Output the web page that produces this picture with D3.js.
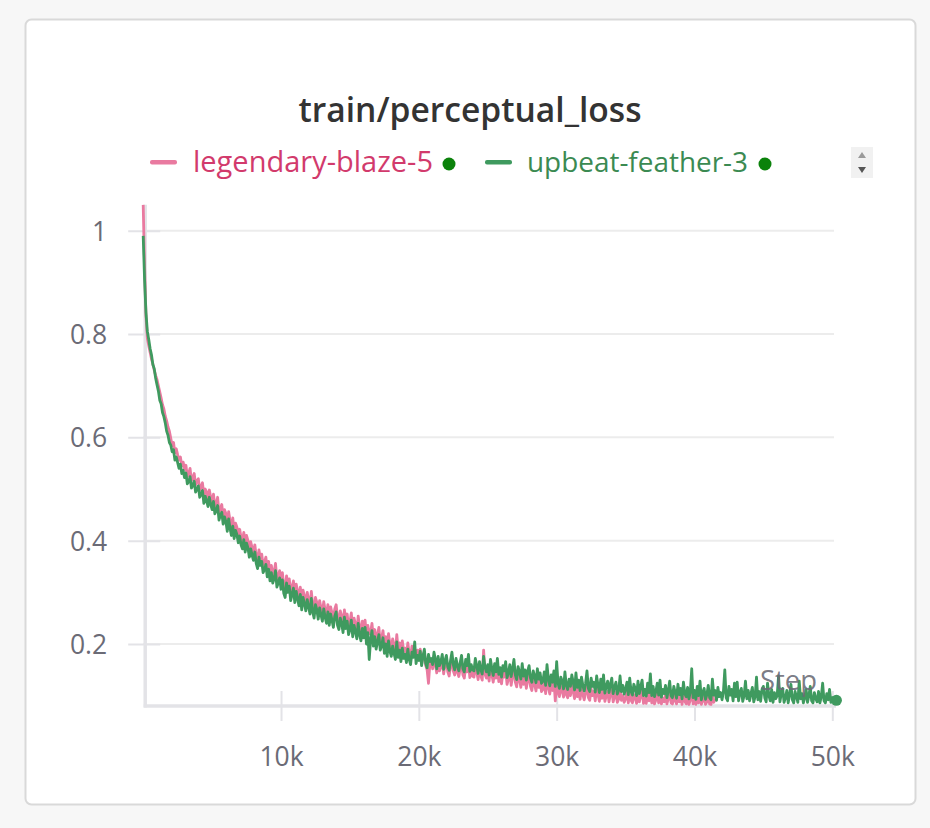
<!DOCTYPE html>
<html>
<head>
<meta charset="utf-8">
<script src="https://cdn.jsdelivr.net/npm/d3@7/dist/d3.min.js"></script>
<style>
  html, body { margin: 0; padding: 0; background: #f7f7f7; }
  svg { display: block; }
</style>
</head>
<body>
<svg id="chart" width="930" height="828"></svg>
<script>
// ---------------- DATA ----------------
const title = "train/perceptual_loss";
const seriesNames = ["legendary-blaze-5", "upbeat-feather-3"];
const stepInterval = 100;
const xTicks = [10000, 20000, 30000, 40000, 50000];
const xTickLabels = ["10k", "20k", "30k", "40k", "50k"];
const yTicks = [0.2, 0.4, 0.6, 0.8, 1];
const yTickLabels = ["0.2", "0.4", "0.6", "0.8", "1"];

// legendary-blaze-5 (pink), steps 0 .. 41500 every 100 (one row = 1k steps)
const pinkValues = [
  1.050, 0.930, 0.835, 0.792, 0.778, 0.765, 0.752, 0.742, 0.730, 0.720,
  0.712, 0.700, 0.688, 0.676, 0.663, 0.655, 0.641, 0.632, 0.620, 0.612,
  0.598, 0.584, 0.590, 0.570, 0.578, 0.566, 0.556, 0.562, 0.545, 0.552,
  0.538, 0.546, 0.524, 0.530, 0.540, 0.516, 0.522, 0.530, 0.508, 0.516,
  0.520, 0.498, 0.505, 0.512, 0.488, 0.500, 0.494, 0.480, 0.498, 0.484,
  0.474, 0.490, 0.466, 0.472, 0.484, 0.454, 0.462, 0.470, 0.446, 0.460,
  0.452, 0.432, 0.456, 0.438, 0.424, 0.444, 0.418, 0.434, 0.426, 0.410,
  0.422, 0.406, 0.398, 0.416, 0.392, 0.410, 0.400, 0.382, 0.398, 0.386,
  0.376, 0.392, 0.370, 0.360, 0.382, 0.366, 0.374, 0.352, 0.358, 0.368,
  0.344, 0.360, 0.336, 0.352, 0.332, 0.340, 0.356, 0.324, 0.332, 0.342,
  0.320, 0.338, 0.312, 0.304, 0.332, 0.314, 0.326, 0.298, 0.310, 0.322,
  0.294, 0.316, 0.302, 0.288, 0.310, 0.280, 0.304, 0.292, 0.278, 0.300,
  0.286, 0.272, 0.302, 0.276, 0.264, 0.290, 0.280, 0.262, 0.284, 0.270,
  0.258, 0.282, 0.266, 0.254, 0.276, 0.250, 0.272, 0.260, 0.246, 0.268,
  0.276, 0.250, 0.242, 0.264, 0.254, 0.236, 0.266, 0.244, 0.258, 0.232,
  0.242, 0.260, 0.228, 0.250, 0.238, 0.224, 0.254, 0.232, 0.220, 0.244,
  0.226, 0.246, 0.214, 0.236, 0.220, 0.222, 0.240, 0.210, 0.228, 0.204,
  0.218, 0.232, 0.202, 0.210, 0.226, 0.196, 0.214, 0.190, 0.220, 0.200,
  0.190, 0.210, 0.196, 0.184, 0.218, 0.188, 0.202, 0.180, 0.206, 0.186,
  0.192, 0.176, 0.202, 0.182, 0.172, 0.196, 0.186, 0.190, 0.174, 0.188,
  0.176, 0.190, 0.160, 0.178, 0.184, 0.158, 0.150, 0.124, 0.162, 0.170,
  0.152, 0.172, 0.160, 0.144, 0.168, 0.148, 0.156, 0.170, 0.142, 0.160,
  0.166, 0.146, 0.138, 0.158, 0.170, 0.148, 0.140, 0.160, 0.146, 0.137,
  0.152, 0.164, 0.140, 0.134, 0.158, 0.146, 0.166, 0.135, 0.148, 0.138,
  0.136, 0.160, 0.146, 0.131, 0.154, 0.138, 0.130, 0.188, 0.142, 0.134,
  0.148, 0.128, 0.156, 0.140, 0.126, 0.150, 0.134, 0.158, 0.127, 0.142,
  0.123, 0.146, 0.136, 0.150, 0.122, 0.132, 0.146, 0.120, 0.138, 0.152,
  0.126, 0.117, 0.142, 0.132, 0.116, 0.146, 0.122, 0.136, 0.114, 0.132,
  0.140, 0.118, 0.110, 0.132, 0.122, 0.109, 0.136, 0.116, 0.128, 0.108,
  0.112, 0.130, 0.104, 0.138, 0.116, 0.103, 0.124, 0.110, 0.130, 0.090,
  0.122, 0.106, 0.098, 0.118, 0.110, 0.097, 0.126, 0.102, 0.096, 0.114,
  0.100, 0.120, 0.108, 0.094, 0.124, 0.098, 0.112, 0.093, 0.116, 0.102,
  0.092, 0.106, 0.124, 0.096, 0.091, 0.114, 0.100, 0.108, 0.090, 0.116,
  0.102, 0.089, 0.112, 0.095, 0.118, 0.089, 0.100, 0.108, 0.088, 0.104,
  0.112, 0.088, 0.098, 0.106, 0.087, 0.093, 0.116, 0.091, 0.100, 0.087,
  0.094, 0.106, 0.086, 0.112, 0.091, 0.086, 0.102, 0.096, 0.085, 0.108,
  0.088, 0.100, 0.110, 0.085, 0.095, 0.085, 0.104, 0.090, 0.114, 0.086,
  0.100, 0.084, 0.092, 0.106, 0.086, 0.110, 0.084, 0.095, 0.088, 0.102,
  0.084, 0.094, 0.108, 0.086, 0.084, 0.100, 0.090, 0.084, 0.104, 0.088,
  0.098, 0.083, 0.106, 0.089, 0.084, 0.098, 0.083, 0.092, 0.112, 0.084,
  0.094, 0.083, 0.100, 0.086, 0.108, 0.083, 0.091, 0.097, 0.083, 0.088,
  0.100, 0.084, 0.083, 0.108, 0.087, 0.094
];

// upbeat-feather-3 (green), steps 0 .. 50300 every 100 (one row = 1k steps)
const greenValues = [
  0.990, 0.905, 0.842, 0.805, 0.790, 0.772, 0.760, 0.741, 0.733, 0.715,
  0.702, 0.690, 0.672, 0.665, 0.648, 0.640, 0.628, 0.612, 0.604, 0.590,
  0.585, 0.572, 0.576, 0.556, 0.562, 0.551, 0.540, 0.548, 0.530, 0.536,
  0.522, 0.531, 0.510, 0.514, 0.524, 0.502, 0.507, 0.515, 0.494, 0.500,
  0.506, 0.484, 0.490, 0.497, 0.472, 0.486, 0.478, 0.466, 0.484, 0.470,
  0.460, 0.476, 0.452, 0.458, 0.468, 0.440, 0.449, 0.455, 0.432, 0.446,
  0.437, 0.418, 0.442, 0.424, 0.410, 0.428, 0.404, 0.420, 0.412, 0.396,
  0.409, 0.392, 0.384, 0.402, 0.378, 0.395, 0.386, 0.368, 0.384, 0.372,
  0.362, 0.378, 0.356, 0.346, 0.368, 0.352, 0.360, 0.338, 0.344, 0.354,
  0.330, 0.345, 0.322, 0.338, 0.318, 0.326, 0.342, 0.310, 0.318, 0.328,
  0.306, 0.324, 0.298, 0.290, 0.318, 0.300, 0.312, 0.284, 0.296, 0.308,
  0.280, 0.302, 0.288, 0.274, 0.296, 0.266, 0.290, 0.278, 0.264, 0.286,
  0.272, 0.258, 0.288, 0.262, 0.250, 0.276, 0.266, 0.248, 0.270, 0.256,
  0.244, 0.268, 0.252, 0.240, 0.262, 0.236, 0.258, 0.246, 0.232, 0.254,
  0.262, 0.236, 0.228, 0.250, 0.240, 0.222, 0.252, 0.230, 0.244, 0.218,
  0.228, 0.246, 0.214, 0.236, 0.224, 0.210, 0.240, 0.218, 0.206, 0.230,
  0.212, 0.232, 0.200, 0.222, 0.170, 0.208, 0.226, 0.196, 0.214, 0.190,
  0.204, 0.218, 0.188, 0.196, 0.212, 0.182, 0.200, 0.176, 0.206, 0.186,
  0.176, 0.196, 0.182, 0.170, 0.204, 0.174, 0.188, 0.166, 0.192, 0.172,
  0.180, 0.164, 0.190, 0.170, 0.160, 0.184, 0.174, 0.204, 0.162, 0.178,
  0.168, 0.186, 0.158, 0.176, 0.190, 0.162, 0.154, 0.180, 0.166, 0.172,
  0.160, 0.184, 0.170, 0.152, 0.176, 0.158, 0.166, 0.180, 0.151, 0.168,
  0.178, 0.156, 0.149, 0.168, 0.184, 0.160, 0.150, 0.172, 0.158, 0.148,
  0.164, 0.178, 0.152, 0.146, 0.170, 0.158, 0.180, 0.147, 0.160, 0.150,
  0.148, 0.172, 0.158, 0.143, 0.166, 0.150, 0.142, 0.176, 0.155, 0.146,
  0.160, 0.140, 0.170, 0.152, 0.139, 0.162, 0.146, 0.172, 0.141, 0.154,
  0.136, 0.158, 0.148, 0.166, 0.135, 0.144, 0.160, 0.137, 0.152, 0.170,
  0.140, 0.131, 0.156, 0.146, 0.132, 0.162, 0.138, 0.150, 0.130, 0.148,
  0.158, 0.134, 0.126, 0.148, 0.138, 0.125, 0.152, 0.132, 0.144, 0.124,
  0.128, 0.146, 0.120, 0.160, 0.132, 0.119, 0.140, 0.126, 0.148, 0.118,
  0.166, 0.124, 0.114, 0.136, 0.128, 0.113, 0.146, 0.120, 0.112, 0.132,
  0.118, 0.140, 0.126, 0.111, 0.144, 0.116, 0.130, 0.110, 0.136, 0.120,
  0.109, 0.124, 0.148, 0.114, 0.108, 0.134, 0.118, 0.126, 0.107, 0.138,
  0.120, 0.106, 0.132, 0.112, 0.140, 0.105, 0.118, 0.128, 0.106, 0.122,
  0.134, 0.104, 0.116, 0.126, 0.103, 0.110, 0.138, 0.108, 0.120, 0.103,
  0.112, 0.126, 0.102, 0.134, 0.108, 0.101, 0.122, 0.114, 0.100, 0.128,
  0.104, 0.118, 0.130, 0.100, 0.112, 0.099, 0.124, 0.106, 0.142, 0.100,
  0.118, 0.098, 0.108, 0.124, 0.101, 0.130, 0.097, 0.112, 0.104, 0.120,
  0.096, 0.110, 0.128, 0.100, 0.096, 0.118, 0.106, 0.095, 0.122, 0.102,
  0.114, 0.094, 0.126, 0.104, 0.098, 0.116, 0.094, 0.108, 0.152, 0.096,
  0.110, 0.093, 0.118, 0.100, 0.128, 0.092, 0.106, 0.114, 0.093, 0.102,
  0.120, 0.096, 0.092, 0.132, 0.101, 0.110, 0.091, 0.116, 0.098, 0.106,
  0.092, 0.108, 0.150, 0.096, 0.090, 0.118, 0.101, 0.112, 0.090, 0.124,
  0.098, 0.126, 0.090, 0.106, 0.114, 0.089, 0.100, 0.128, 0.094, 0.110,
  0.090, 0.104, 0.116, 0.088, 0.098, 0.136, 0.092, 0.108, 0.089, 0.112,
  0.118, 0.096, 0.088, 0.124, 0.100, 0.090, 0.112, 0.087, 0.106, 0.094,
  0.100, 0.138, 0.088, 0.104, 0.114, 0.087, 0.096, 0.110, 0.086, 0.102,
  0.122, 0.092, 0.086, 0.108, 0.098, 0.087, 0.128, 0.094, 0.104, 0.086,
  0.096, 0.112, 0.087, 0.100, 0.118, 0.090, 0.086, 0.106, 0.094, 0.088,
  0.108, 0.086, 0.098, 0.124, 0.090, 0.086, 0.104, 0.092, 0.112, 0.087,
  0.096, 0.090, 0.092, 0.091
];

const colors = { pink: "#e97aa0", green: "#3f9a5f", pinkText: "#d23a6c", greenText: "#3b8a52", status: "#0b820b" };

// ---------------- DRAW ----------------
const svg = d3.select("#chart");
const FONT = "'Open Sans', 'Noto Sans', sans-serif";

function fitWidth(sel, target) {
  const w = sel.node().getComputedTextLength();
  const fs = parseFloat(sel.style("font-size"));
  sel.style("font-size", (fs * target / w).toFixed(2) + "px");
}

// card
svg.append("rect")
  .attr("x", 25.5).attr("y", 19.5).attr("width", 890).attr("height", 785)
  .attr("rx", 6).attr("fill", "#ffffff").attr("stroke", "#d9d9d9").attr("stroke-width", 2);

const x = d3.scaleLinear().domain([0, 50000]).range([143.2, 832.3]);
const y = d3.scaleLinear().domain([0, 1]).range([747.3, 230.7]);
const yMin = 0.08;

// gridlines
svg.append("g").selectAll("line").data(yTicks).join("line")
  .attr("x1", x(0)).attr("x2", 834)
  .attr("y1", d => y(d)).attr("y2", d => y(d))
  .attr("stroke", "#ececec").attr("stroke-width", 2);

// y axis
const yAxis = d3.axisLeft(y).tickValues(yTicks)
  .tickFormat((d, i) => yTickLabels[i]).tickSize(0).tickPadding(0);
const gy = svg.append("g").attr("transform", `translate(${x(0) + 2},0)`).call(yAxis);
gy.select(".domain").remove();
gy.selectAll(".tick line").remove();
gy.selectAll(".tick").append("line")
  .attr("x1", -17).attr("x2", 15).attr("stroke", "#e3e3e7").attr("stroke-width", 2);
gy.selectAll(".tick text")
  .attr("x", -38).attr("dy", "0.36em")
  .attr("fill", "#6b6b76").style("font-family", FONT).style("font-size", "26.5px");

// x axis
const xAxis = d3.axisBottom(x).tickValues(xTicks)
  .tickFormat((d, i) => xTickLabels[i]).tickSize(0).tickPadding(0);
const gx = svg.append("g").attr("transform", `translate(0,${y(yMin)})`).call(xAxis);
gx.select(".domain").remove();
gx.selectAll(".tick line").remove();
gx.selectAll(".tick").append("line")
  .attr("y1", -15).attr("y2", 15).attr("stroke", "#e3e3e7").attr("stroke-width", 2);
gx.selectAll(".tick text")
  .attr("y", 60).attr("dy", 0)
  .attr("fill", "#6b6b76").style("font-family", FONT).style("font-size", "26.5px");

// axis lines
svg.append("line").attr("x1", x(0) + 2).attr("x2", x(0) + 2)
  .attr("y1", y(1.05)).attr("y2", y(yMin) + 1.5)
  .attr("stroke", "#e3e3e7").attr("stroke-width", 3.5);
svg.append("line").attr("x1", x(0) + 0.5).attr("x2", 836)
  .attr("y1", y(yMin)).attr("y2", y(yMin))
  .attr("stroke", "#e3e3e7").attr("stroke-width", 3.5);

// lines
const pinkData = pinkValues.map((v, i) => ({ s: i * stepInterval, v }));
const greenData = greenValues.map((v, i) => ({ s: i * stepInterval, v }));
const line = d3.line().x(d => x(d.s)).y(d => y(d.v));

svg.append("path").datum(pinkData).attr("d", line)
  .attr("fill", "none").attr("stroke", colors.pink).attr("stroke-width", 2.8)
  .attr("stroke-linejoin", "round");
svg.append("path").datum(greenData).attr("d", line)
  .attr("fill", "none").attr("stroke", colors.green).attr("stroke-width", 2.8)
  .attr("stroke-linejoin", "round");

const last = greenData[greenData.length - 1];
svg.append("circle").attr("cx", x(last.s)).attr("cy", y(last.v)).attr("r", 5.5).attr("fill", colors.green);

// "Step" label
const stepLabel = svg.append("text").attr("x", 760).attr("y", 690)
  .attr("fill", "#6b6b76").attr("fill-opacity", 0.9)
  .style("font-family", FONT).style("font-size", "26px").text("Step");
fitWidth(stepLabel, 57);

// title
const titleText = svg.append("text").attr("x", 470).attr("y", 122).attr("text-anchor", "middle")
  .attr("fill", "#333333").style("font-family", FONT).style("font-weight", "600")
  .style("font-size", "30px").text(title);
fitWidth(titleText, 343);

// legend
const legend = [
  { name: seriesNames[0], line: colors.pink, text: colors.pinkText, x0: 150, tx: 193, w: 240, dot: 449 },
  { name: seriesNames[1], line: colors.green, text: colors.greenText, x0: 485, tx: 527, w: 221, dot: 765 }
];
const lg = svg.append("g");
legend.forEach(l => {
  lg.append("rect").attr("x", l.x0).attr("y", 160).attr("width", 27).attr("height", 4.5).attr("rx", 2)
    .attr("fill", l.line);
  const t = lg.append("text").attr("x", l.tx).attr("y", 172).attr("fill", l.text)
    .style("font-family", FONT).style("font-size", "26px").text(l.name);
  fitWidth(t, l.w);
  lg.append("circle").attr("cx", l.dot).attr("cy", 164).attr("r", 6.5).attr("fill", colors.status);
});

// scroll arrows
svg.append("rect").attr("x", 851).attr("y", 147).attr("width", 22).attr("height", 31).attr("fill", "#f1f1f1");
svg.append("path").attr("d", "M858,158 L866,158 L862,152 Z").attr("fill", "#9a9a9a");
svg.append("path").attr("d", "M858,167 L866,167 L862,173 Z").attr("fill", "#555555");
</script>
</body>
</html>
